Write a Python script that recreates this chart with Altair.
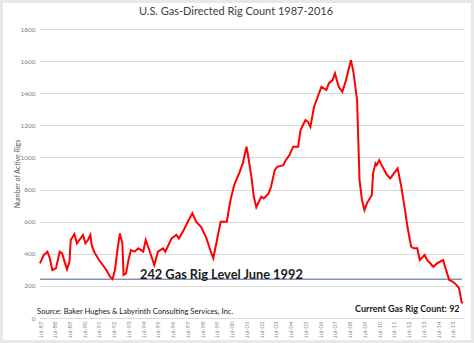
import altair as alt
import pandas as pd

# Monthly readings of the gas-directed rig count
months = [
    "1987-07", "1987-10", "1988-01", "1988-03", "1988-05", "1988-08", "1988-11",
    "1989-01", "1989-03", "1989-05", "1989-07", "1989-08", "1989-11",
    "1990-01", "1990-03", "1990-06", "1990-08", "1990-10", "1990-12",
    "1991-01", "1991-03", "1991-07", "1991-10",
    "1992-01", "1992-04", "1992-06", "1992-08", "1992-10", "1992-12",
    "1993-02", "1993-03", "1993-05", "1993-07", "1993-09", "1993-12",
    "1994-03", "1994-07", "1994-09", "1994-11",
    "1995-04", "1995-07", "1995-11",
    "1996-01", "1996-06", "1996-10", "1996-12",
    "1997-04", "1997-08", "1997-11",
    "1998-02", "1998-06", "1998-10",
    "1999-02", "1999-04", "1999-07", "1999-10",
    "2000-03", "2000-06", "2000-09",
    "2001-01", "2001-04", "2001-07", "2001-08", "2001-11",
    "2002-01", "2002-03", "2002-07", "2002-09",
    "2003-01", "2003-03", "2003-06", "2003-08",
    "2004-01", "2004-03", "2004-06", "2004-09",
    "2005-01", "2005-03", "2005-07", "2005-09", "2005-11",
    "2006-02", "2006-05", "2006-08", "2006-12",
    "2007-02", "2007-05", "2007-07", "2007-10",
    "2008-01", "2008-04", "2008-06", "2008-08", "2008-10",
    "2009-01", "2009-02", "2009-03", "2009-05", "2009-07", "2009-09",
    "2010-01", "2010-02", "2010-04", "2010-05", "2010-07", "2010-09",
    "2011-01", "2011-04", "2011-07", "2011-10",
    "2012-01", "2012-04", "2012-06", "2012-09", "2012-11",
    "2013-02", "2013-04", "2013-08", "2013-10",
    "2014-03", "2014-06", "2014-11",
    "2015-01", "2015-04", "2015-07", "2015-10", "2015-12",
    "2016-02", "2016-03",
]
rigs = [
    340, 392, 413, 372, 299, 309, 413,
    403, 351, 303, 351, 486, 523,
    465, 486, 517, 465, 486, 517,
    455, 413, 361, 330,
    299, 257, 242, 299, 423, 527,
    465, 268, 278, 361, 423, 413,
    434, 413, 486, 444,
    330, 413, 434,
    413, 496, 517, 496,
    548, 610, 652,
    600, 568, 506,
    413, 372, 486, 600,
    600, 735, 828,
    900, 963, 1067, 1025, 880,
    755, 690, 755, 745,
    776, 817, 921, 942,
    952, 983, 1015, 1067,
    1067, 1171, 1233, 1222, 1191,
    1316, 1378, 1440, 1420,
    1461, 1482, 1524, 1440,
    1409, 1482, 1544, 1606, 1534,
    1357, 1108, 859, 735, 672, 714,
    766, 901, 963, 952, 983, 952,
    895, 870, 901, 932,
    817, 672, 568, 444, 434,
    434, 361, 392, 361,
    319, 340, 361,
    309, 237, 226, 205, 185,
    101, 92,
]

tick_years = list(range(1987, 2016))          # Jul-87 ... Jul-15
y_ticks = list(range(0, 1801, 200))

chart_title = ["U.S. Gas-Directed Rig Count 1987-2016"]
ref_level = [242]
ref_label = ["242 Gas Rig Level June 1992"]
source_label = ["Source: Baker Hughes & Labyrinth Consulting Services, Inc."]
current_label = ["Current Gas Rig Count:  92"]

FONT = "Lato"


def to_year(s):
    y, m = s.split("-")
    return int(y) + (int(m) - 1) / 12


df = pd.DataFrame({"t": [to_year(s) for s in months], "rigs": rigs})
tick_vals = [y + 0.5 for y in tick_years]

x_scale = alt.Scale(domain=[1987.5, 2016.25], nice=False, zero=False)
y_scale = alt.Scale(domain=[0, 1800], nice=False)

x_axis = alt.Axis(
    values=tick_vals,
    labelExpr="'Jul-' + substring(toString(floor(datum.value)), 2, 4)",
    labelAngle=270, labelFontSize=6, labelColor="#8c8c8c", labelFont=FONT,
    labelPadding=3, labelOverlap=False, labelFlush=False,
    grid=False, ticks=False, domain=True, domainColor="#d9d9d9",
    title=None,
)
y_axis = alt.Axis(
    values=y_ticks, format="d", labelFontSize=6.5, labelColor="#7f7f7f", labelFont=FONT,
    labelPadding=5, labelOverlap=False, labelFlush=False,
    grid=True, gridColor="#d9d9d9", ticks=False, domain=False,
    title="Number of Active Rigs", titleFontSize=7, titleFontWeight="normal",
    titleColor="#595959", titleFont=FONT, titleX=-20, titleY=144.5,
)


def X(field):
    return alt.X(field, scale=x_scale, axis=x_axis)


def Y(field):
    return alt.Y(field, scale=y_scale, axis=y_axis)


line = alt.Chart(df).mark_line(color="#ff0000", strokeWidth=2).encode(
    x=X("t:Q"), y=Y("rigs:Q"),
)

rule_df = pd.DataFrame({"level": ref_level, "x0": [1987.5], "x1": [2016.1]})
rule = alt.Chart(rule_df).mark_rule(color="#8097b1", strokeWidth=1.5).encode(
    y=Y("level:Q"), x=X("x0:Q"), x2="x1:Q"
)

t1 = alt.Chart(pd.DataFrame({"x": [1994.28], "y": [268], "txt": ref_label})).mark_text(
    align="left", baseline="middle", font=FONT, fontSize=12.8, fontWeight="bold", color="#1a1a1a"
).encode(x=X("x:Q"), y=Y("y:Q"), text="txt:N")

t2 = alt.Chart(pd.DataFrame({"x": [1987.3], "y": [38], "txt": source_label})).mark_text(
    align="left", baseline="middle", font=FONT, fontSize=7.6, color="#1a1a1a"
).encode(x=X("x:Q"), y=Y("y:Q"), text="txt:N")

t3 = alt.Chart(pd.DataFrame({"x": [2015.95], "y": [56], "txt": current_label})).mark_text(
    align="right", baseline="middle", font=FONT, fontSize=9, fontWeight="bold", color="#1a1a1a"
).encode(x=X("x:Q"), y=Y("y:Q"), text="txt:N")

title = alt.Chart(pd.DataFrame({"txt": chart_title})).mark_text(
    align="center", baseline="middle", font=FONT, fontSize=11, color="#404040"
).encode(text="txt:N", x=alt.value(196), y=alt.value(-17))

frame = alt.Chart(pd.DataFrame({"a": [0]})).mark_rect(
    fill=None, stroke="#e8e8e8", strokeWidth=6
).encode(
    x=alt.value(-40), x2=alt.value(434), y=alt.value(-29), y2=alt.value(314)
)

chart = alt.layer(rule, line, t1, t2, t3, title, frame).properties(
    width=424, height=289,
    autosize=alt.AutoSizeParams(type="none"),
    padding={"left": 40, "top": 29, "right": 10, "bottom": 25},
    background="white",
).configure_view(stroke=None)

chart.save("out.html", embed_options={"renderer": "svg", "actions": False})
